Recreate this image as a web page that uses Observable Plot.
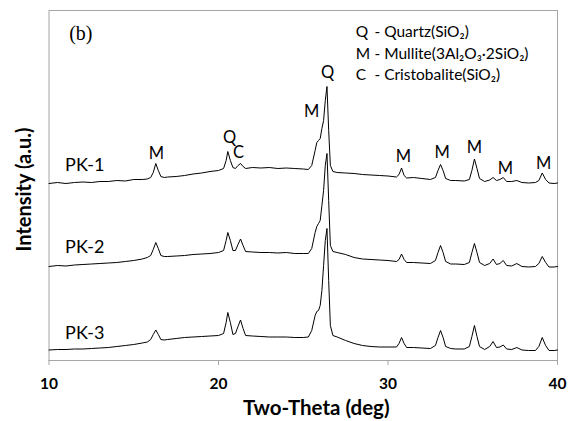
<!DOCTYPE html>
<html><head><meta charset="utf-8">
<script src="https://cdn.jsdelivr.net/npm/d3@7"></script>
<script src="https://cdn.jsdelivr.net/npm/@observablehq/plot@0.6"></script>
<style>body{margin:0;background:#fff}</style>
</head><body><div id="chart"></div>
<script>
// Two-theta grid (deg)
const twoTheta = [
  10,10.5,11,11.5,12,12.5,13,13.5,14,14.5,15,15.5,
  15.8,16,16.15,16.3,16.45,16.6,16.8,17,
  17.5,18,18.5,19,19.5,20,
  20.3,20.45,20.55,20.7,20.85,21,21.15,21.3,21.45,21.6,
  22,22.5,23,23.5,24,24.5,25,25.3,
  25.5,25.7,25.8,25.9,26,26.1,26.2,26.3,26.4,26.5,26.6,26.75,
  27,27.5,28,28.5,29,29.5,30,30.5,
  30.65,30.8,30.95,31.1,31.5,32,32.5,
  32.8,32.95,33.1,33.25,33.4,33.7,34,34.5,
  34.8,34.95,35.1,35.25,35.4,35.7,36,
  36.2,36.4,36.6,36.8,37,37.3,37.6,37.9,
  38.3,38.7,38.9,39.1,39.3,39.5,39.8,40
];
// Intensities (a.u., with the stacking offset already included)
const pk1 = [
  177,178,177,178,178.5,178,179,179,180,179.5,181,181,
  181.5,183,188,197,190,184,183,183.5,
  184,185,186.5,187.5,189,190,
  192,200,209,200,193,192,195,197,194,192,
  193,192.5,193,192,192.5,192,191.5,191,
  195,210,218,220,222,232,240,260,274,230,195,189,
  188,187.5,187,186,185.5,185,184.5,183.5,
  186,192.5,185,182.5,183,182,181,
  183,190,196,190,182,180,180,179.5,
  181,190,201.5,192,182,179,180.5,
  183,180,181,183,179,179,180,178,
  177.5,178,180,187.5,181,177.5,177,177.5
];
const pk2 = [
  94,95,94.5,95.5,96,96.5,97,97.5,98,99,100,101.5,
  103,105,111,118,112,105,104,104,
  104.5,105,106,106.5,107,108,
  110,120,128,120,110,110,116,121.5,115,109,
  108.5,108,108,107.5,108,107,107,107,
  112,128,134,137,140,155,170,195,207,160,115,109,
  108,106,103,101.5,101,100.5,100,99,
  101,106.5,101,98,98,97.5,97,
  100,108,115,108,99,96.5,96.5,96,
  98,108,117,108,98,95,97,
  101.5,96,97,100,95,94.5,97,94,
  93.5,94,97,104,98,93.5,93.5,94
];
const pk3 = [
  10.5,11,11,11.5,11.5,12,12.5,13,14,15,16,17.5,
  18.5,21,26,30.5,26,21,20.5,21,
  22,23,23.5,24,24.5,25,
  27,38,48,38,26,27,34,40.5,32,25,
  24.5,24,23.5,23.5,23.5,23,23,23.5,
  30,45,49,50,55,70,95,120,132,80,35,25,
  23.5,20,17,15,14,13.5,13.5,13.5,
  17,23,17,13,13,12.5,12,
  15,23,30,23,14,12,11.5,11.5,
  14,24,35,24,14,11,14,
  19,13,13.5,15.5,11.5,11,13,10.5,
  10,10,14,23,15,10,10,10.5
];
const sampleNames = ["PK-1", "PK-2", "PK-3"];
const sampleLabelLevel = [195, 113, 27];
const xTicks = [10, 20, 30, 40];

// Peak identification labels
const peakPhase = ["M","Q","C","M","Q","M","M","M","M","M"];
const peakTwoTheta = [16.34,20.65,21.18,25.49,26.43,30.91,33.2,35.1,36.93,39.18];
const peakLevel = [207,223,208,249,288,204,208,213,192,197];

// Legend
const legendCodes = ["Q", "M", "C"];
const legendNames = ["- Quartz(SiO₂)", "- Mullite(3Al₂O₃·2SiO₂)", "- Cristobalite(SiO₂)"];
const legendLevel = [328.3, 306.7, 285];

const series = [pk1, pk2, pk3];
const rows = sampleNames.flatMap((name, s) =>
  twoTheta.map((t, i) => ({sample: name, twoTheta: t, intensity: series[s][i]})));
const peaks = peakPhase.map((p, i) => ({phase: p, twoTheta: peakTwoTheta[i], intensity: peakLevel[i]}));
const samples = sampleNames.map((n, i) => ({name: n, level: sampleLabelLevel[i]}));
const legend = legendCodes.map((c, i) => ({code: c, name: legendNames[i], level: legendLevel[i]}));

const font = "Lato, 'Open Sans', sans-serif";
const plot = Plot.plot({
  width: 576, height: 421,
  marginLeft: 48.5, marginRight: 19, marginTop: 10, marginBottom: 61,
  style: {fontFamily: font, background: "#fff", color: "#000", overflow: "visible"},
  x: {domain: [10, 40], label: null},
  y: {domain: [0, 350], axis: null},
  marks: [
    Plot.frame({stroke: "#a6a6a6", strokeWidth: 1}),
    Plot.axisX({ticks: xTicks, tickSize: 5, tickPadding: 12, fontSize: 15.5, fontWeight: "bold", stroke: "#a6a6a6", fill: "#000", label: null}),
    Plot.line(rows, {x: "twoTheta", y: "intensity", z: "sample", stroke: "#000", strokeWidth: 1}),
    Plot.text(samples, {x: 10.95, y: "level", text: "name", textAnchor: "start", fontSize: 18, fill: "#000"}),
    Plot.text(peaks, {x: "twoTheta", y: "intensity", text: "phase", fontSize: 16.5, fill: "#000"}),
    Plot.text(legend, {x: 28.1, y: "level", text: "code", textAnchor: "start", fontSize: 15.5, fill: "#000"}),
    Plot.text(legend, {x: 29.2, y: "level", text: "name", textAnchor: "start", fontSize: 15.5, fill: "#000"}),
    Plot.text(["Two-Theta (deg)"], {frameAnchor: "bottom", dx: 13, dy: 48, lineAnchor: "middle", fontSize: 20.5, fontWeight: "bold", fill: "#000"}),
    Plot.text(["Intensity (a.u.)"], {frameAnchor: "left", dx: -24, dy: 4, rotate: -90, textAnchor: "middle", lineAnchor: "middle", fontSize: 20, fontWeight: "bold", fill: "#000"}),
    Plot.text(["(b)"], {frameAnchor: "top-left", dx: 43.5, dy: 23, textAnchor: "end", lineAnchor: "middle", fontFamily: "'Liberation Serif', serif", fontSize: 20, fill: "#000"})
  ]
});
document.getElementById("chart").appendChild(plot);
</script>
</body></html>
